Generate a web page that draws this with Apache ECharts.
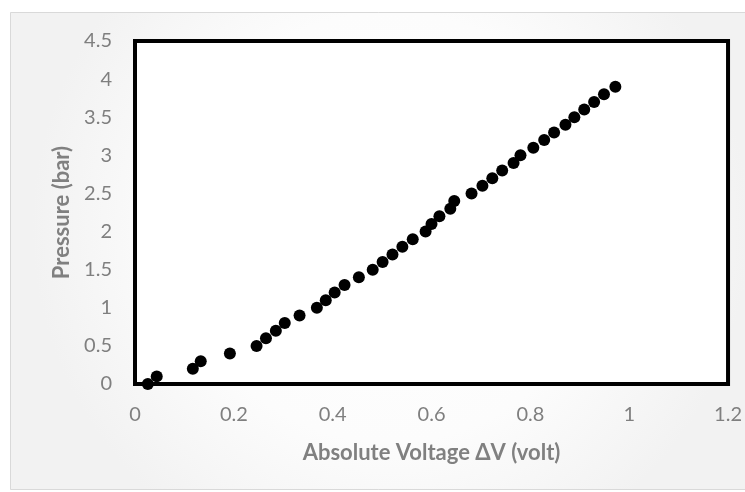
<!DOCTYPE html>
<html>
<head>
<meta charset="utf-8">
<script src="https://cdn.jsdelivr.net/npm/echarts@6/dist/echarts.min.js"></script>
<style>
  html, body { margin: 0; padding: 0; background: #fff; }
  #chart { width: 745px; height: 492px; }
</style>
</head>
<body>
<div id="chart"></div>
<script>
var voltage = [0.026, 0.044, 0.117, 0.133, 0.192, 0.246, 0.265, 0.285, 0.303, 0.333,
               0.368, 0.386, 0.404, 0.424, 0.453, 0.481, 0.501, 0.521, 0.541, 0.562,
               0.588, 0.600, 0.616, 0.638, 0.646, 0.681, 0.703, 0.723, 0.743, 0.766,
               0.780, 0.806, 0.828, 0.848, 0.871, 0.889, 0.909, 0.929, 0.949, 0.972];
var pressure = [0.0, 0.1, 0.2, 0.3, 0.4, 0.5, 0.6, 0.7, 0.8, 0.9,
                1.0, 1.1, 1.2, 1.3, 1.4, 1.5, 1.6, 1.7, 1.8, 1.9,
                2.0, 2.1, 2.2, 2.3, 2.4, 2.5, 2.6, 2.7, 2.8, 2.9,
                3.0, 3.1, 3.2, 3.3, 3.4, 3.5, 3.6, 3.7, 3.8, 3.9];
var xTicks = [0, 0.2, 0.4, 0.6, 0.8, 1, 1.2];
var yTicks = [0, 0.5, 1, 1.5, 2, 2.5, 3, 3.5, 4, 4.5];

var points = voltage.map(function (v, i) { return [v, pressure[i]]; });

var chart = echarts.init(document.getElementById('chart'));
var fontFam = 'Lato, "Open Sans", sans-serif';

function pickTick(list) {
    return function (v) {
        var t = list.find(function (k) { return Math.abs(k - v) < 1e-6; });
        return t === undefined ? '' : String(t);
    };
}

var option = {
    animation: false,
    backgroundColor: '#ffffff',
    graphic: [{
        type: 'rect',
        z: -10,
        shape: { x: 10.5, y: 12.5, width: 760, height: 477 },
        style: {
            fill: new echarts.graphic.RadialGradient(0.5, 0.45, 0.75, [
                { offset: 0, color: '#ffffff' },
                { offset: 0.6, color: '#fcfcfc' },
                { offset: 1, color: '#f2f2f2' }
            ]),
            stroke: '#d9d9d9',
            lineWidth: 1
        }
    }],
    grid: {
        left: 135, top: 41, right: 16, bottom: 108,
        show: true,
        borderColor: '#000',
        borderWidth: 4,
        backgroundColor: '#ffffff'
    },
    xAxis: {
        type: 'value',
        min: 0, max: 1.2, interval: 0.2,
        name: 'Absolute Voltage ΔV (volt)',
        nameLocation: 'middle',
        nameGap: 58,
        nameTextStyle: { color: '#808080', fontSize: 22, fontWeight: 'bold', fontFamily: fontFam },
        axisLine: { show: false },
        axisTick: { show: false },
        splitLine: { show: false },
        axisLabel: {
            margin: 21,
            color: '#7f7f7f', fontSize: 20, fontFamily: fontFam,
            formatter: pickTick(xTicks)
        }
    },
    yAxis: {
        type: 'value',
        min: 0, max: 4.5, interval: 0.5,
        name: 'Pressure (bar)',
        nameLocation: 'middle',
        nameGap: 62,
        nameTextStyle: { color: '#808080', fontSize: 22, fontWeight: 'bold', fontFamily: fontFam },
        axisLine: { show: false },
        axisTick: { show: false },
        splitLine: { show: false },
        axisLabel: {
            margin: 23,
            color: '#7f7f7f', fontSize: 20, fontFamily: fontFam,
            formatter: pickTick(yTicks)
        }
    },
    series: [{
        type: 'scatter',
        data: points,
        symbol: 'circle',
        symbolSize: 12,
        itemStyle: { color: '#000000', opacity: 1 }
    }]
};

chart.setOption(option);
</script>
</body>
</html>
